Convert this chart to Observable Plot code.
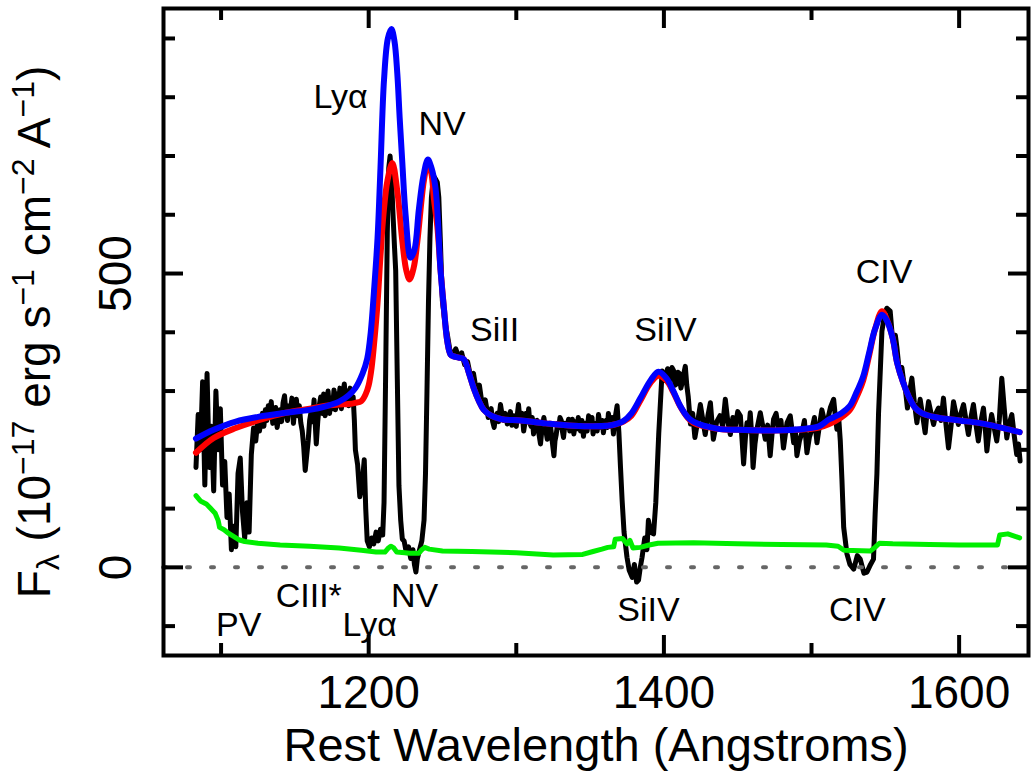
<!DOCTYPE html>
<html>
<head>
<meta charset="utf-8">
<script src="https://cdn.jsdelivr.net/npm/d3@7"></script>
<script src="https://cdn.jsdelivr.net/npm/@observablehq/plot@0.6"></script>
<style>
  html, body { margin: 0; padding: 0; background: #fff; }
  #chart { width: 1032px; height: 774px; }
</style>
</head>
<body>
<div id="chart"></div>
<script>
// ---------------- data ----------------
// observed spectrum (black): [wavelength, flux] pairs
const blackWave = [1083,1084.5,1086,1087.5,1089,1090.5,1092,1093.5,1095,1096.5,1098,1099.5,1101,1102.5,1104,1105.5,1107,1108.5,1110,1111.5,1113,1114.5,1116,1117.5,1119,1120.5,1122,1123.5,
1125,1126,1127,1128,1129,1130,1131,1132,1133,1134,1135,1136,1137,1138,1139,1140,1141,1142,1143,1144,1145,1146,1147,1148,1149,1150,1151,1152,1153,1154,1155,1156,1157,1158,1159,1160,1161,1162,1163,1164,1164.5,1165.5,1166.5,1167.5,1168.5,1169.5,1170.5,1171.5,1172.5,1173.5,1174.5,1175.5,1176.5,1177.5,1178.5,1179.5,1180.5,1181.5,1182.5,1183.5,1184.5,1185.5,1186.5,1187.5,1188.5,1189.5,1190.3,
1191,1192.5,1194,1195.5,1197,1198,1199,1200.5,1202,1203.5,1205,1206.5,1208,1209.5,1210.4,1211.5,1212.6,1213.6,1214.5,1215.5,1216.5,1217.5,1218.3,1219.4,1220.5,1221.7,1222.8,1224,1225.5,1227,1228.5,1230,1231,1232,1233,1234.5,1236,1237.5,1238.5,1239.5,1240.5,1241.5,1242.5,1243.5,1244.5,1245.5,1246.5,1247.5,1248.5,1249.9,1251.5,1253.3,1255,1257,1259,1261,1263,1265,1267,1269,1271,1273,1275,1277,1279,1281,
1283,1284,1285,1286,1287,1288,1289.3,1290.5,1291.5,1292.5,1293.9,1295,1296,1297,1298.3,1299,1300,1300.8,1301.5,1302.3,1303,1304,1305,1306,1306.7,1307.5,1308.4,1309.2,1310,1310.8,1311.7,1312.8,1314,1315,1316.4,1317.5,1318.7,1319.8,1321,1322,1323,1324,1325.5,1326.2,1327,1328,1328.8,1329.6,1330.5,1331.2,1332,1333,1334,1335.4,1336.2,1337,1338,1339,1339.8,1340.5,1341.2,1342,1342.8,1343.5,1344.5,1345.5,1346.3,1347,1348,1349,1349.8,1350.5,1351.3,1352,1353,1354,1354.8,1355.7,1356.6,1357.5,1358.3,1359,1360,1361,1361.7,1362.4,1363.2,1364,1364.9,1365.8,1366.4,1367,1368.3,
1369.5,1370.6,1371.7,1373,1375,1376.5,1378.5,1380,1381.5,1382.8,1384,1385.2,1387,1388.5,1389.5,1391,1393,1394.5,1396.5,1398.8,1400,1401,1402.5,1403.5,1404.4,1405.5,1406.5,1407.5,1408.5,1409.5,1410.5,1411.5,1412.5,1413.5,1414.5,1415.5,1416.5,
1418,1419.5,1421,1423,1424.7,1426.3,1428,1429.8,1431.5,1433.5,1435.8,1438,1439.8,1441.6,1443.3,1445,1446.7,1448.4,1450,1451.8,1453,1454,1455.2,1456.3,1457.4,1458.5,1459.5,1460.4,1461.7,1463,1464.2,1465.3,1467,1468.7,1470.3,1472,1473.2,1474.3,1476,1477.7,1479.3,1481,1482.2,1483.4,1485.6,1487.9,1489,1490.1,1491.8,1493.5,1495.2,1496.9,1498.6,1500.3,1502,1503.7,1505.3,1507,1508.7,1510.5,1512.8,1515,1516.1,1517.2,1518.4,1519.5,1520.6,
1521.8,1524,1526,1528.6,1531,1533,1535.5,1537.6,1540,1542,1543.1,1544.3,1545.4,1547.7,1549.5,1551,1553.3,1554.5,
1555.6,1556.8,1557.9,1559,1560.1,1561.2,1562.4,1563.7,1565,1566.5,1568,1569.7,1571.4,1572.5,1573.6,1575.3,1577,1578.2,1579.3,1581,1582.7,1584.3,1586,1587.7,1589.4,1591,1592.8,1594.5,1596.2,1597.8,1599.5,1601.2,1603,1604.7,1606.3,1608,1609.7,1611.3,1613,1614.7,1616.5,1617.6,1618.8,1620.4,1622,1623.7,1625.5,1627.2,1628.9,1630.6,1632.3,1634,1635.7,1637.3,1639,1640.2,1641.3];
const blackFlux = [170,260,200,316,140,330,170,240,130,300,200,270,140,180,85,125,30,70,35,160,186,95,50,110,60,192,237,215,
255,232,248,262,240,268,250,275,258,282,245,262,272,238,255,268,248,280,292,262,250,275,268,288,245,270,286,258,275,246,232,205,165,190,215,250,265,248,285,235,210,248,275,290,262,295,258,280,300,262,288,270,302,268,295,275,305,270,296,312,280,300,275,305,282,290,250,
200,175,120,140,183,100,45,35,50,40,60,45,65,55,110,330,568,680,700,660,600,545,505,320,139,80,48,45,25,35,15,30,5,-8,15,30,45,80,160,300,450,560,630,655,664,660,655,630,560,454,420,396,370,360,372,358,365,345,350,325,330,300,310,275,285,255,
270,248,238,255,262,248,277,258,250,262,244,255,265,242,258,245,240,262,277,255,250,262,232,248,262,250,270,245,240,255,227,248,250,232,210,238,255,236,218,240,245,222,190,215,225,245,238,255,250,232,221,245,238,252,232,235,252,227,242,248,236,255,240,232,250,223,238,245,232,258,242,240,255,227,240,245,232,260,245,238,250,229,245,250,238,262,248,240,255,227,245,255,275,
230,170,114,60,17,-5,-17,5,-25,-22,0,17,50,30,80,60,57,110,227,334,318,325,338,318,320,340,335,310,312,332,330,305,315,330,342,310,290,
244,262,221,250,277,252,226,258,280,218,248,258,240,286,248,226,255,240,265,258,215,176,220,246,232,263,225,170,210,235,250,263,240,218,242,190,225,252,262,235,250,203,225,246,258,212,235,190,215,229,250,195,222,235,255,212,240,268,250,246,272,286,258,235,255,215,150,
68,23,5,-3,20,14,-10,-8,5,14,91,159,261,402,430,441,436,400,
380,395,373,345,328,340,317,300,271,300,322,280,246,268,286,258,229,262,282,262,243,262,271,250,288,245,203,240,282,262,243,262,277,250,226,255,277,245,215,248,271,240,198,235,260,238,215,250,322,270,220,245,260,225,192,210,181];

// fitted model, first fit (red)
const redWave = [1083,1095,1110,1125,1143.8,1160,1170.9,1180,1186.5,1191,1195,1198,1200,1202,1204,1206,1208,1210,1212.7,1216,1219.4,1222.8,1225.5,1227.7,1230.5,1233,1237.4,1240.1,1242.5,1244.2,1246.5,1248.7,1251,1253.3,1255.5,1257.7,1261,1264.5,1268,1271.3,1274.5,1278,1283,1290,1302.9,1320,1338.7,1361.8,1368,1372.6,1378,1384.1,1390.9,1396.3,1401.7,1406.4,1411,1416,1420,1436,1450,1475,1496,1505,1512,1520,1526,1530,1535,1539,1543,1547.7,1551,1555,1558,1562,1566,1570,1575,1585,1600,1615,1630,1641];
const redFlux = [195,220,237,250,263,270,275,277,278,280,283,295,310,340,390,450,530,600,658,688,640,555,505,490,510,555,658,688,670,627,580,505,440,384,362,359,357,354,330,304,284,268,258,252,250,245,241,241,244,248,258,284,314,326,318,298,274,255,246,236,234,233,235,238,244,255,268,287,318,360,405,436,422,390,348,315,290,272,262,255,250,245,237,230];

// fitted model, second fit (blue)
const blueWave = [1083,1095,1110,1125,1143.8,1160,1170.9,1180,1186.5,1191,1195.9,1199,1201.4,1203.6,1206,1208,1210.4,1213,1215.4,1217.5,1219.4,1221,1222.8,1225,1228.4,1231,1234,1237,1240.1,1242.5,1245.3,1248.7,1251,1253.3,1255.5,1257.7,1261,1264.5,1268,1271.3,1274.5,1278,1283,1290,1302.9,1320,1338.7,1361.8,1368,1372.6,1378,1384.1,1390.9,1396.3,1401.7,1406.4,1411,1416,1420,1436,1450,1475,1496,1505,1512,1520,1526,1530,1535,1539,1543,1547.7,1551,1555,1558,1562,1566,1570,1575,1585,1600,1615,1630,1641];
const blueFlux = [219,234,248,256,263,268,274,282,293,305,330,355,400,470,560,680,830,900,916,895,840,765,688,600,527,540,609,665,694,680,645,505,440,384,362,359,357,354,330,304,284,268,258,252,250,245,241,241,244,249,262,288,318,333,322,300,275,256,248,236,234,233,236,240,252,262,275,295,325,365,405,430,420,390,348,315,290,272,262,255,250,245,237,230];

// error spectrum (green)
const greenWave = [1083,1086,1090,1093,1096,1098,1099,1102,1105,1109,1112,1116,1125,1140,1160,1180,1195,1205,1211,1213,1215,1217,1219,1228,1234,1236,1238,1241,1250,1270,1300,1325,1345,1352,1358,1362,1366,1367,1372,1375,1377,1379,1384,1390,1396,1420,1450,1480,1510,1518,1522,1540,1543,1546,1555,1580,1600,1626,1627.5,1633,1641];
const greenFlux = [122,113,108,100,92,80,68,64,58,52,47,44,41,38,36,33,29,26,26,32,36,33,26,24,24,30,34,31,28,27,25,21,22,27,31,34,35,48,49,40,46,33,34,38,41,42,40,39,38,36,29,28,34,41,40,39,38,38,55,57,50];

// axis ticks
const xMajorTicks = [1200, 1400, 1600];
const xMinorTicks = [1100, 1300, 1500];
const yMajorTicks = [0, 500];
const yMinorTicks = [-100, 100, 200, 300, 400, 600, 700, 800, 900];

// line identifications: emission (above) and absorption (below)
const lineLabelText = ["Lyα", "NV", "SiII", "SiIV", "CIV", "PV", "CIII*", "Lyα", "NV", "SiIV", "CIV"];
const lineLabelWave = [1181, 1249.7, 1285.3, 1401, 1549.2, 1112, 1159.4, 1200.7, 1231.1, 1389.5, 1531];
const lineLabelFlux = [801, 754, 403, 403, 502, -99, -49, -99, -49, -73, -73];

const xTitle = "Rest Wavelength (Angstroms)";
const yTitleParts = [["F", ""], ["λ", "sub"], [" (10", ""], ["−17", "sup"], [" erg s", ""], ["−1", "sup"], [" cm", ""], ["−2", "sup"], [" A", ""], ["−1", "sup"], [")", ""]];
const yTitle = yTitleParts.map(p => p[0]).join("");

// ---------------- build ----------------
const toRows = (w, f) => w.map((x, i) => ({w: x, f: f[i]}));
const black = toRows(blackWave, blackFlux);
const red = toRows(redWave, redFlux);
const blue = toRows(blueWave, blueFlux);
const green = toRows(greenWave, greenFlux);
const labels = lineLabelText.map((t, i) => ({t, w: lineLabelWave[i], f: lineLabelFlux[i]}));

const W = 1032, H = 774;
const mL = 163, mR = 4, mT = 8, mB = 119;
const frameW = W - mL - mR, frameH = H - mT - mB;
const majorLen = 20, minorLen = 12;
const font = "'Liberation Sans', Arial, Helvetica, sans-serif";

const chart = Plot.plot({
  width: W,
  height: H,
  marginLeft: mL, marginRight: mR, marginTop: mT, marginBottom: mB,
  x: {domain: [1061, 1647], axis: null},
  y: {domain: [-150, 951], axis: null},
  style: {fontFamily: font, background: "white", color: "black", overflow: "visible"},
  marks: [
    Plot.line(black, {x: "w", y: "f", stroke: "black", strokeWidth: 5, strokeLinejoin: "round", strokeLinecap: "round"}),
    Plot.line(green, {x: "w", y: "f", stroke: "#00ee00", strokeWidth: 5, strokeLinejoin: "round"}),
    Plot.line(red, {x: "w", y: "f", curve: "catmull-rom", stroke: "#ff0000", strokeWidth: 6, strokeLinejoin: "round"}),
    Plot.line(blue, {x: "w", y: "f", curve: "catmull-rom", stroke: "#0000ff", strokeWidth: 6, strokeLinejoin: "round"}),
    Plot.ruleY([0], {stroke: "#666666", strokeWidth: 4, strokeDasharray: "3,21", strokeLinecap: "round"}),
    // ticks, drawn inward on all four sides
    Plot.tickX(xMajorTicks, {x: d => d, stroke: "black", strokeWidth: 4, insetTop: frameH - majorLen}),
    Plot.tickX(xMinorTicks, {x: d => d, stroke: "black", strokeWidth: 4, insetTop: frameH - minorLen}),
    Plot.tickX(xMajorTicks, {x: d => d, stroke: "black", strokeWidth: 4, insetBottom: frameH - majorLen}),
    Plot.tickX(xMinorTicks, {x: d => d, stroke: "black", strokeWidth: 4, insetBottom: frameH - minorLen}),
    Plot.tickY(yMajorTicks, {y: d => d, stroke: "black", strokeWidth: 4, insetRight: frameW - majorLen}),
    Plot.tickY(yMinorTicks, {y: d => d, stroke: "black", strokeWidth: 4, insetRight: frameW - minorLen}),
    Plot.tickY(yMajorTicks, {y: d => d, stroke: "black", strokeWidth: 4, insetLeft: frameW - majorLen}),
    Plot.tickY(yMinorTicks, {y: d => d, stroke: "black", strokeWidth: 4, insetLeft: frameW - minorLen}),
    Plot.frame({stroke: "black", strokeWidth: 4}),
    // tick labels
    Plot.text(xMajorTicks, {x: d => d, frameAnchor: "bottom", textAnchor: "middle", lineAnchor: "middle", dy: 38, text: d => String(d), fontSize: 46, fill: "black"}),
    Plot.text(yMajorTicks, {y: d => d, frameAnchor: "left", textAnchor: "middle", lineAnchor: "middle", dx: -47, rotate: -90, text: d => String(d), fontSize: 46, fill: "black"}),
    // axis titles
    Plot.text([xTitle], {frameAnchor: "bottom", textAnchor: "middle", lineAnchor: "middle", dy: 90, text: d => d, fontSize: 47, fill: "black"}),
    Plot.text([yTitle], {frameAnchor: "left", textAnchor: "middle", lineAnchor: "middle", dx: -128, rotate: -90, text: d => d, fontSize: 46, fill: "black"}),
    // line identifications
    Plot.text(labels, {x: "w", y: "f", text: "t", textAnchor: "middle", lineAnchor: "middle", fontSize: 34, fill: "black"})
  ]
});

// turn the y title into super/subscripted text (still real text)
const yt = Array.from(chart.querySelectorAll("text")).find(t => t.textContent === yTitle);
if (yt) {
  while (yt.firstChild) yt.removeChild(yt.firstChild);
  let cur = 0;
  const ns = "http://www.w3.org/2000/svg";
  for (const [s, kind] of yTitleParts) {
    const ts = document.createElementNS(ns, "tspan");
    const target = kind === "sup" ? -16 : kind === "sub" ? 9 : 0;
    if (target !== cur) ts.setAttribute("dy", String(target - cur));
    cur = target;
    if (kind) ts.setAttribute("font-size", "32");
    ts.textContent = s;
    yt.appendChild(ts);
  }
}

document.getElementById("chart").appendChild(chart);
</script>
</body>
</html>
